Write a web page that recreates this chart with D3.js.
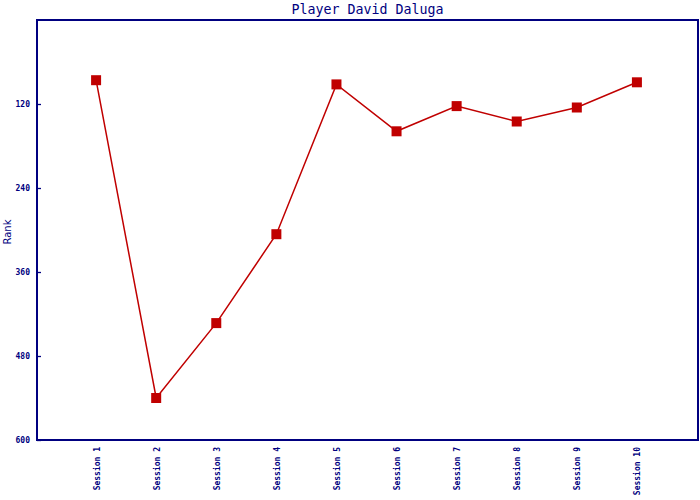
<!DOCTYPE html>
<html><head><meta charset="utf-8">
<script src="https://cdn.jsdelivr.net/npm/d3@7"></script>
<style>body{margin:0;background:#fff}</style>
</head><body>
<svg id="c" width="700" height="500"></svg>
<script>
const categories = ["Session 1","Session 2","Session 3","Session 4","Session 5","Session 6","Session 7","Session 8","Session 9","Session 10"];
const ranks = [86, 540, 433, 306, 92, 159, 123, 145, 125, 89];
const yTicks = [120, 240, 360, 480, 600];
const title = "Player David Daluga";
const yLabel = "Rank";

const svg = d3.select("#c");
const L = 37, R = 698, T = 20, B = 440;
const navy = "#000080", red = "#c00000";
const x = d3.scalePoint().domain(categories).range([L - 1, R - 1]).padding(1);
const y = d3.scaleLinear().domain([0, 600]).range([T, B]);

svg.append("rect").attr("x", L).attr("y", T).attr("width", R - L).attr("height", B - T)
  .attr("fill", "none").attr("stroke", navy).attr("stroke-width", 1.3).attr("shape-rendering","crispEdges");

const ya = svg.append("g").attr("transform", `translate(${L},0)`)
  .call(d3.axisLeft(y).tickValues(yTicks).tickSize(-4).tickPadding(7).tickSizeOuter(0));
ya.select(".domain").remove();
ya.selectAll("line").attr("stroke", navy).attr("stroke-width", 1.3);
ya.selectAll("text").attr("fill", navy).attr("font-family", "DejaVu Sans Mono").attr("font-size", 8).attr("font-weight","bold");

const xa = svg.append("g").attr("transform", `translate(0,${B})`)
  .call(d3.axisBottom(x).tickSize(0).tickPadding(0));
xa.select(".domain").remove();
xa.selectAll("text").attr("fill", navy).attr("font-family", "DejaVu Sans Mono").attr("font-size", 8).attr("font-weight","bold")
  .attr("text-anchor", "end").attr("dy", null)
  .attr("transform", "translate(3,7) rotate(-90)");

svg.append("text").attr("x", (L + R) / 2).attr("y", 14).attr("text-anchor", "middle")
  .attr("fill", navy).attr("font-family", "DejaVu Sans Mono").attr("font-size", 13.3).text(title);

svg.append("text").attr("transform", "translate(11,232) rotate(-90)").attr("text-anchor", "middle")
  .attr("fill", navy).attr("font-family", "DejaVu Sans").attr("font-size", 10).text(yLabel);

const line = d3.line().x((d, i) => x(categories[i])).y(d => y(d));
svg.append("path").datum(ranks).attr("d", line).attr("fill", "none").attr("stroke", red).attr("stroke-width", 1.5);

svg.selectAll("rect.m").data(ranks).enter().append("rect").attr("class", "m")
  .attr("x", (d, i) => x(categories[i]) - 5).attr("y", d => y(d) - 5)
  .attr("width", 10).attr("height", 10).attr("fill", red);
</script>
</body></html>
